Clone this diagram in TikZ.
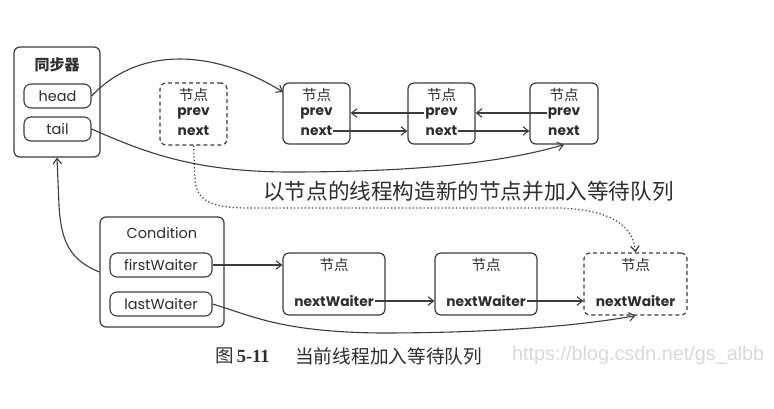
\documentclass[tikz,border=0pt]{standalone}
\usepackage{fontspec}
\setmainfont{Poppins}
\newfontfamily\cjk{Noto Sans CJK SC}
\newfontfamily\serifL{Liberation Serif}
\newfontfamily\wmfont{Liberation Sans}
\usetikzlibrary{arrows.meta}
\definecolor{ln}{HTML}{3C3C3C}
\definecolor{tx}{HTML}{2E2E2E}
\definecolor{wm}{HTML}{D9D9D9}
\begin{document}
\begin{tikzpicture}[x=1pt,y=-1pt,
  box/.style={draw=ln,line width=1.2pt,rounded corners=6pt,inner sep=0pt},
  dbox/.style={box,dash pattern=on 4pt off 3pt},
  pill/.style={draw=ln,line width=1.1pt,rounded corners=7pt,minimum height=24pt,inner sep=0pt,text=tx,font=\fontsize{14.5}{16}\selectfont},
  cjklab/.style={inner sep=0pt,text=tx,font=\cjk\fontsize{14.5}{16}\selectfont},
  lab/.style={inner sep=1pt,text=tx,font=\bfseries\fontsize{13.8}{16}\selectfont},
  arr/.style={draw=ln,line width=1.1pt,-{Straight Barb[length=5.5pt,width=8.5pt]}},
  dotarr/.style={draw=ln,line width=1.2pt,dash pattern=on 1.2pt off 2.4pt,-{Straight Barb[length=5.5pt,width=8.5pt]}}]
\useasboundingbox[fill=white] (0,0) rectangle (774,409);

% synchronizer
\node[box,minimum width=86pt,minimum height=110pt] (sync) at (57,102) {};
\node[cjklab,font=\cjk\bfseries\fontsize{15}{16}\selectfont] (synct) at (57,65) {同步器};
\node[pill,minimum width=67pt] (head) at (57.5,96) {head};
\node[pill,minimum width=67pt] (tail) at (57.5,129) {tail};

% sync queue nodes
\node[dbox,minimum width=67pt,minimum height=62pt] (D) at (193.5,114) {};
\node[cjklab] (Dt) at (193.5,95) {节点};
\node[lab] (Dp) at (193.5,113) {prev};
\node[lab] (Dn) at (193.5,131) {next};

\node[box,minimum width=67pt,minimum height=61pt] (N1) at (316.5,113.5) {};
\node[cjklab] (N1t) at (316.5,95) {节点};
\node[lab] (N1p) at (316.5,113) {prev};
\node[lab] (N1n) at (316.5,131) {next};

\node[box,minimum width=67pt,minimum height=61pt] (N2) at (441.5,113.5) {};
\node[cjklab] (N2t) at (441.5,95) {节点};
\node[lab] (N2p) at (441.5,113) {prev};
\node[lab] (N2n) at (441.5,131) {next};

\node[box,minimum width=68pt,minimum height=61pt] (N3) at (564,113.5) {};
\node[cjklab] (N3t) at (564,95) {节点};
\node[lab] (N3p) at (564,113) {prev};
\node[lab] (N3n) at (564,131) {next};

\draw[arr] (N2p.west) -- (N2p.west -| N1.east);
\draw[arr] (N1n.east) -- (N1n.east -| N2.west);
\draw[arr] (N3p.west) -- (N3p.west -| N2.east);
\draw[arr] (N2n.east) -- (N2n.east -| N3.west);

\coordinate (hin) at (283,92);
\draw[arr] (head.east) .. controls (140,45) and (215,50) .. (hin);
\draw[arr] (tail.east) .. controls (140,150) and (190,172) .. (290,172)
  .. controls (420,172) and (505,162) .. (N3.south);

% condition
\node[box,minimum width=124pt,minimum height=110pt] (C) at (162,272) {};
\node[inner sep=0pt,text=tx,font=\fontsize{14.5}{16}\selectfont] (Ct) at (162,233) {Condition};
\node[pill,minimum width=102pt] (fw) at (161,265) {firstWaiter};
\node[pill,minimum width=102pt] (lw) at (161,304) {lastWaiter};

\node[box,minimum width=102pt,minimum height=62pt] (W1) at (334,284) {};
\node[cjklab] (W1t) at (334,265) {节点};
\node[lab] (W1n) at (334,301) {nextWaiter};

\node[box,minimum width=102pt,minimum height=62pt] (W2) at (486,284) {};
\node[cjklab] (W2t) at (486,265) {节点};
\node[lab] (W2n) at (486,301) {nextWaiter};

\node[dbox,minimum width=103pt,minimum height=62pt] (W3) at (635.5,284) {};
\node[cjklab] (W3t) at (635.5,265) {节点};
\node[lab] (W3n) at (635.5,301) {nextWaiter};

\draw[arr] (fw.east) -- (fw.east -| W1.west);
\draw[arr] (W1n.east) -- (W1n.east -| W2.west);
\draw[arr] (W2n.east) -- (W2n.east -| W3.west);
\draw[arr] (lw.east) .. controls (250,315) and (280,332) .. (380,333)
  .. controls (500,333) and (585,325) .. (W3.south);

\draw[arr] (C.west) .. controls (70,260) and (61,242) .. (59,205) -- (sync.south);

% dotted
\draw[dotarr] (D.south) -- (195,180) .. controls (197,203) and (215,208) .. (250,208)
  -- (560,208) .. controls (610,210) and (633,225) .. (W3.north);
\node[inner sep=0pt,anchor=west,text=tx,font=\cjk\fontsize{21.6}{22}\selectfont] (msg) at (263,191) {以节点的线程构造新的节点并加入等待队列};

% caption
\node[inner sep=0pt,anchor=west,text=tx,font=\fontsize{18.5}{20}\selectfont] (cap1) at (215,356) {{\cjk 图}\,{\serifL\bfseries 5-11}};
\node[inner sep=0pt,anchor=west,text=tx,font=\cjk\fontsize{18.7}{20}\selectfont] (cap2) at (295,356) {当前线程加入等待队列};
\node[inner sep=0pt,anchor=west,text=wm,font=\wmfont\fontsize{19.8}{20}\selectfont] (wmk) at (512,355) {https://blog.csdn.net/gs\_albb};
\end{tikzpicture}
\end{document}
